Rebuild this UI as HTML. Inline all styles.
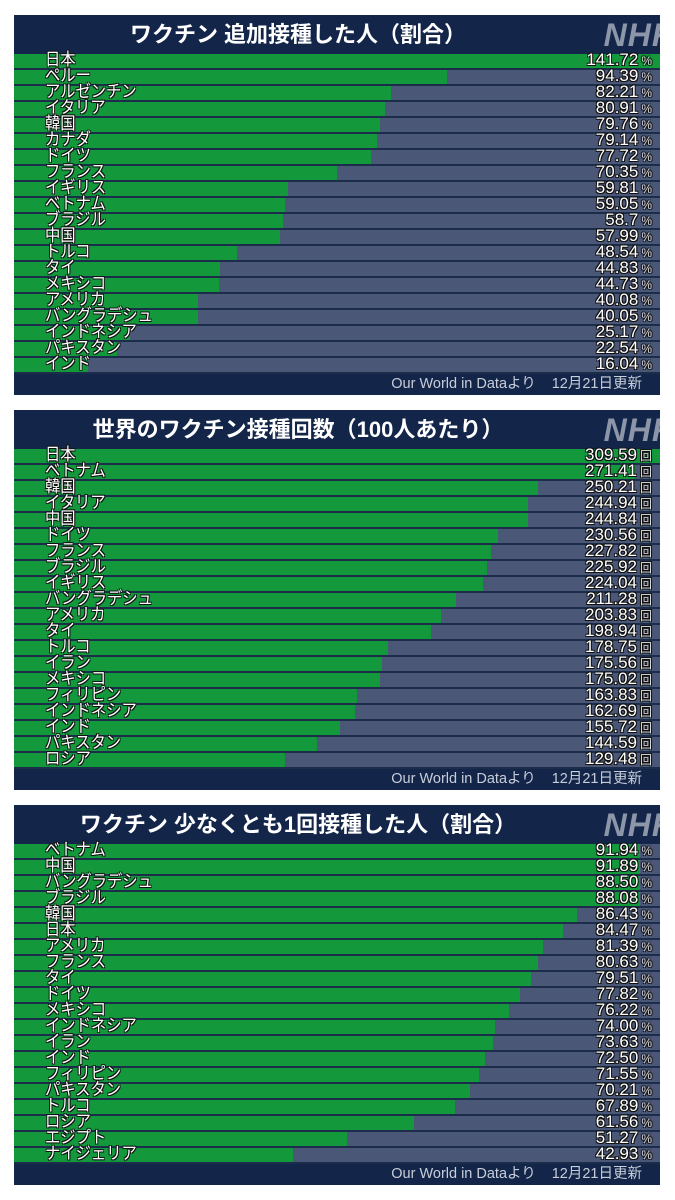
<!DOCTYPE html>
<html><head><meta charset="utf-8"><style>
*{margin:0;padding:0;box-sizing:border-box}
body{width:675px;height:1200px;background:#fff;position:relative;overflow:hidden;font-family:"Liberation Sans","Noto Sans CJK JP",sans-serif}
.p{position:absolute;left:14px;width:646px;height:380px;background:#13264a;overflow:hidden}
.t{position:absolute;left:0;top:0;width:646px;height:39px;color:#fff;font-size:22px;font-weight:bold;text-align:center;line-height:40px;padding-right:78px}
.nhk{position:absolute;right:-16px;top:2px;font-size:32px;font-weight:bold;font-style:italic;color:#8c96a8;letter-spacing:1px;font-family:"Liberation Sans",sans-serif}
.rows{position:absolute;left:0;top:39px;width:646px}
.r{position:relative;height:16px;background:#4b5777;border-bottom:2px solid #1c2d4c}
.g{position:absolute;left:0;top:0;height:14px;background:#13993c}
.l,.v{position:absolute;top:-3px;font-size:17px;line-height:18px;color:#fff;text-shadow:-1px -1px 0 #111,1px -1px 0 #111,-1px 1px 0 #111,1px 1px 0 #111;white-space:nowrap}
.l{left:31px;transform:scaleX(.9);transform-origin:left}
.v{right:8px}
.v small{font-size:12px;margin-left:3px;color:#ddd}
.f{position:absolute;right:18px;bottom:2px;font-size:14.5px;color:#c8cdd8;white-space:nowrap}
.f span{margin-left:16px}
</style></head><body>

<div class="p" style="top:15px">
<div class="t">ワクチン 追加接種した人（割合）</div><div class="nhk">NHK</div>
<div class="rows">
<div class="r"><div class="g" style="width:646px"></div><div class="l">日本</div><div class="v">141.72<small>%</small></div></div>
<div class="r"><div class="g" style="width:433px"></div><div class="l">ペルー</div><div class="v">94.39<small>%</small></div></div>
<div class="r"><div class="g" style="width:377px"></div><div class="l">アルゼンチン</div><div class="v">82.21<small>%</small></div></div>
<div class="r"><div class="g" style="width:371px"></div><div class="l">イタリア</div><div class="v">80.91<small>%</small></div></div>
<div class="r"><div class="g" style="width:366px"></div><div class="l">韓国</div><div class="v">79.76<small>%</small></div></div>
<div class="r"><div class="g" style="width:363px"></div><div class="l">カナダ</div><div class="v">79.14<small>%</small></div></div>
<div class="r"><div class="g" style="width:357px"></div><div class="l">ドイツ</div><div class="v">77.72<small>%</small></div></div>
<div class="r"><div class="g" style="width:323px"></div><div class="l">フランス</div><div class="v">70.35<small>%</small></div></div>
<div class="r"><div class="g" style="width:274px"></div><div class="l">イギリス</div><div class="v">59.81<small>%</small></div></div>
<div class="r"><div class="g" style="width:271px"></div><div class="l">ベトナム</div><div class="v">59.05<small>%</small></div></div>
<div class="r"><div class="g" style="width:269px"></div><div class="l">ブラジル</div><div class="v">58.7<small>%</small></div></div>
<div class="r"><div class="g" style="width:266px"></div><div class="l">中国</div><div class="v">57.99<small>%</small></div></div>
<div class="r"><div class="g" style="width:223px"></div><div class="l">トルコ</div><div class="v">48.54<small>%</small></div></div>
<div class="r"><div class="g" style="width:206px"></div><div class="l">タイ</div><div class="v">44.83<small>%</small></div></div>
<div class="r"><div class="g" style="width:205px"></div><div class="l">メキシコ</div><div class="v">44.73<small>%</small></div></div>
<div class="r"><div class="g" style="width:184px"></div><div class="l">アメリカ</div><div class="v">40.08<small>%</small></div></div>
<div class="r"><div class="g" style="width:184px"></div><div class="l">バングラデシュ</div><div class="v">40.05<small>%</small></div></div>
<div class="r"><div class="g" style="width:116px"></div><div class="l">インドネシア</div><div class="v">25.17<small>%</small></div></div>
<div class="r"><div class="g" style="width:103px"></div><div class="l">パキスタン</div><div class="v">22.54<small>%</small></div></div>
<div class="r"><div class="g" style="width:74px"></div><div class="l">インド</div><div class="v">16.04<small>%</small></div></div>
</div>
<div class="f">Our World in Dataより<span>12月21日更新</span></div>
</div>

<div class="p" style="top:410px">
<div class="t">世界のワクチン接種回数（100人あたり）</div><div class="nhk">NHK</div>
<div class="rows">
<div class="r"><div class="g" style="width:646px"></div><div class="l">日本</div><div class="v">309.59<small>回</small></div></div>
<div class="r"><div class="g" style="width:621px"></div><div class="l">ベトナム</div><div class="v">271.41<small>回</small></div></div>
<div class="r"><div class="g" style="width:524px"></div><div class="l">韓国</div><div class="v">250.21<small>回</small></div></div>
<div class="r"><div class="g" style="width:514px"></div><div class="l">イタリア</div><div class="v">244.94<small>回</small></div></div>
<div class="r"><div class="g" style="width:514px"></div><div class="l">中国</div><div class="v">244.84<small>回</small></div></div>
<div class="r"><div class="g" style="width:484px"></div><div class="l">ドイツ</div><div class="v">230.56<small>回</small></div></div>
<div class="r"><div class="g" style="width:477px"></div><div class="l">フランス</div><div class="v">227.82<small>回</small></div></div>
<div class="r"><div class="g" style="width:473px"></div><div class="l">ブラジル</div><div class="v">225.92<small>回</small></div></div>
<div class="r"><div class="g" style="width:469px"></div><div class="l">イギリス</div><div class="v">224.04<small>回</small></div></div>
<div class="r"><div class="g" style="width:442px"></div><div class="l">バングラデシュ</div><div class="v">211.28<small>回</small></div></div>
<div class="r"><div class="g" style="width:427px"></div><div class="l">アメリカ</div><div class="v">203.83<small>回</small></div></div>
<div class="r"><div class="g" style="width:417px"></div><div class="l">タイ</div><div class="v">198.94<small>回</small></div></div>
<div class="r"><div class="g" style="width:374px"></div><div class="l">トルコ</div><div class="v">178.75<small>回</small></div></div>
<div class="r"><div class="g" style="width:368px"></div><div class="l">イラン</div><div class="v">175.56<small>回</small></div></div>
<div class="r"><div class="g" style="width:366px"></div><div class="l">メキシコ</div><div class="v">175.02<small>回</small></div></div>
<div class="r"><div class="g" style="width:343px"></div><div class="l">フィリピン</div><div class="v">163.83<small>回</small></div></div>
<div class="r"><div class="g" style="width:341px"></div><div class="l">インドネシア</div><div class="v">162.69<small>回</small></div></div>
<div class="r"><div class="g" style="width:326px"></div><div class="l">インド</div><div class="v">155.72<small>回</small></div></div>
<div class="r"><div class="g" style="width:303px"></div><div class="l">パキスタン</div><div class="v">144.59<small>回</small></div></div>
<div class="r"><div class="g" style="width:271px"></div><div class="l">ロシア</div><div class="v">129.48<small>回</small></div></div>
</div>
<div class="f">Our World in Dataより<span>12月21日更新</span></div>
</div>

<div class="p" style="top:805px">
<div class="t">ワクチン 少なくとも1回接種した人（割合）</div><div class="nhk">NHK</div>
<div class="rows">
<div class="r"><div class="g" style="width:626px"></div><div class="l">ベトナム</div><div class="v">91.94<small>%</small></div></div>
<div class="r"><div class="g" style="width:626px"></div><div class="l">中国</div><div class="v">91.89<small>%</small></div></div>
<div class="r"><div class="g" style="width:626px"></div><div class="l">バングラデシュ</div><div class="v">88.50<small>%</small></div></div>
<div class="r"><div class="g" style="width:626px"></div><div class="l">ブラジル</div><div class="v">88.08<small>%</small></div></div>
<div class="r"><div class="g" style="width:563px"></div><div class="l">韓国</div><div class="v">86.43<small>%</small></div></div>
<div class="r"><div class="g" style="width:549px"></div><div class="l">日本</div><div class="v">84.47<small>%</small></div></div>
<div class="r"><div class="g" style="width:529px"></div><div class="l">アメリカ</div><div class="v">81.39<small>%</small></div></div>
<div class="r"><div class="g" style="width:524px"></div><div class="l">フランス</div><div class="v">80.63<small>%</small></div></div>
<div class="r"><div class="g" style="width:517px"></div><div class="l">タイ</div><div class="v">79.51<small>%</small></div></div>
<div class="r"><div class="g" style="width:506px"></div><div class="l">ドイツ</div><div class="v">77.82<small>%</small></div></div>
<div class="r"><div class="g" style="width:495px"></div><div class="l">メキシコ</div><div class="v">76.22<small>%</small></div></div>
<div class="r"><div class="g" style="width:481px"></div><div class="l">インドネシア</div><div class="v">74.00<small>%</small></div></div>
<div class="r"><div class="g" style="width:479px"></div><div class="l">イラン</div><div class="v">73.63<small>%</small></div></div>
<div class="r"><div class="g" style="width:471px"></div><div class="l">インド</div><div class="v">72.50<small>%</small></div></div>
<div class="r"><div class="g" style="width:465px"></div><div class="l">フィリピン</div><div class="v">71.55<small>%</small></div></div>
<div class="r"><div class="g" style="width:456px"></div><div class="l">パキスタン</div><div class="v">70.21<small>%</small></div></div>
<div class="r"><div class="g" style="width:441px"></div><div class="l">トルコ</div><div class="v">67.89<small>%</small></div></div>
<div class="r"><div class="g" style="width:400px"></div><div class="l">ロシア</div><div class="v">61.56<small>%</small></div></div>
<div class="r"><div class="g" style="width:333px"></div><div class="l">エジプト</div><div class="v">51.27<small>%</small></div></div>
<div class="r"><div class="g" style="width:279px"></div><div class="l">ナイジェリア</div><div class="v">42.93<small>%</small></div></div>
</div>
<div class="f">Our World in Dataより<span>12月21日更新</span></div>
</div>

</body></html>
